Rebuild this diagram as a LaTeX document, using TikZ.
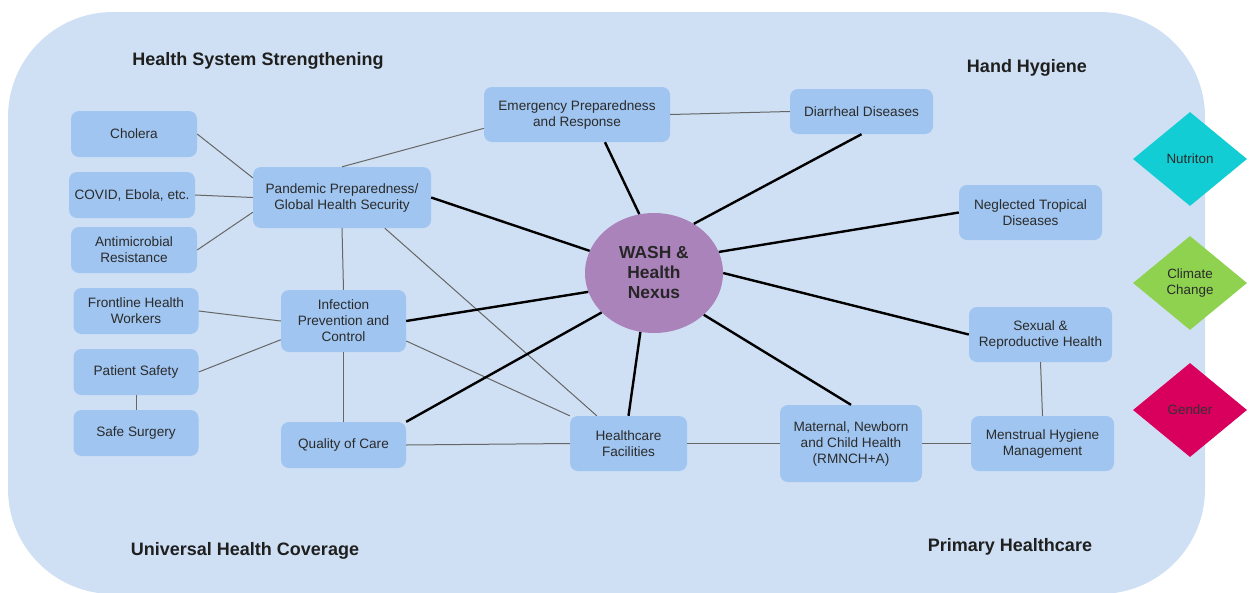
\documentclass[tikz,border=0pt]{standalone}
\usepackage{fontspec}
\setmainfont{Liberation Sans}
\usetikzlibrary{shapes.geometric,calc}
\definecolor{bgblue}{HTML}{CFE0F4}
\definecolor{boxblue}{HTML}{9FC5F0}
\definecolor{nexuscol}{HTML}{AB83BB}
\definecolor{nutricol}{HTML}{12CDD4}
\definecolor{climatecol}{HTML}{8ED24F}
\definecolor{gendercol}{HTML}{D8005C}
\definecolor{txtgray}{HTML}{2B2B2B}
\definecolor{linkgray}{HTML}{666666}
\begin{document}
\begin{tikzpicture}[x=1pt,y=-1pt,
  box/.style={draw=none, fill=boxblue, rounded corners=8pt, align=center,
    font=\fontsize{13.6}{16}\selectfont, text=txtgray, inner sep=2pt},
  title/.style={font=\bfseries\fontsize{18}{21}\selectfont, text=black!88},
  dmd/.style={diamond, draw=none, minimum width=114pt, minimum height=94pt,
    inner sep=0pt, align=center, font=\fontsize{13.4}{16}\selectfont, text=txtgray},
  strong/.style={line width=2.4pt, black},
  weak/.style={line width=1pt, linkgray}]
\useasboundingbox (0,0) rectangle (1253,592);
\fill[bgblue, rounded corners=105pt] (8,12) rectangle (1205,594);

% titles
\node[title] (t1) at (258,61) {Health System Strengthening};
\node[title] (t2) at (1027,68) {Hand Hygiene};
\node[title] (t3) at (245,551) {Universal Health Coverage};
\node[title] (t4) at (1010,547) {Primary Healthcare};

% left column
\node[box, minimum width=126pt, minimum height=46pt] (chol) at (134,134) {Cholera};
\node[box, minimum width=126pt, minimum height=46pt] (covid) at (132,195) {COVID, Ebola, etc.};
\node[box, minimum width=126pt, minimum height=46pt] (amr) at (134,250) {Antimicrobial\\Resistance};
\node[box, minimum width=125pt, minimum height=46pt] (front) at (136,311) {Frontline Health\\Workers};
\node[box, minimum width=125pt, minimum height=46pt] (ps) at (136,372) {Patient Safety};
\node[box, minimum width=125pt, minimum height=46pt] (ss) at (136,433) {Safe Surgery};

% second column
\node[box, minimum width=178pt, minimum height=61pt] (pand) at (342,197.5) {Pandemic Preparedness/\\Global Health Security};
\node[box, minimum width=125pt, minimum height=62pt] (ipc) at (343.5,321) {Infection\\Prevention and\\Control};
\node[box, minimum width=125pt, minimum height=46pt] (qoc) at (343.5,445) {Quality of Care};

% centre
\node[box, minimum width=186pt, minimum height=55pt] (emer) at (577,114.5) {Emergency Preparedness\\and Response};
\node[box, minimum width=143pt, minimum height=45pt] (diar) at (861.5,111.5) {Diarrheal Diseases};
\node[ellipse, fill=nexuscol, minimum width=138pt, minimum height=120pt, inner sep=0pt,
  align=center, font=\bfseries\fontsize{17.4}{20}\selectfont, text=black!85] (wash) at (654,273) {WASH \&\\Health\\Nexus};
\node[box, minimum width=117pt, minimum height=55pt] (hf) at (628.5,443.5) {Healthcare\\Facilities};
\node[box, minimum width=142pt, minimum height=77pt] (mat) at (851,443.5) {Maternal, Newborn\\and Child Health\\(RMNCH+A)};

% right column
\node[box, minimum width=143pt, minimum height=55pt] (ntd) at (1030.5,212.5) {Neglected Tropical\\Diseases};
\node[box, minimum width=143pt, minimum height=55pt] (sex) at (1040.5,334.5) {Sexual \&\\Reproductive Health};
\node[box, minimum width=143pt, minimum height=55pt] (men) at (1042.5,443.5) {Menstrual Hygiene\\Management};

% diamonds
\node[dmd, fill=nutricol] (nut) at (1190,159) {Nutriton};
\node[dmd, fill=climatecol] (clim) at (1190,283) {Climate\\Change};
\node[dmd, fill=gendercol, text=black!80] (gen) at (1190,410) {Gender};

% thin links
\draw[weak] (chol.east) -- ($(pand.north west)!0.18!(pand.south west)$);
\draw[weak] (covid.east) -- (pand.west);
\draw[weak] (amr.east) -- ($(pand.north west)!0.74!(pand.south west)$);
\draw[weak] (pand.north) -- ($(emer.north west)!0.75!(emer.south west)$);
\draw[weak] (pand.south) -- (ipc.north);
\draw[weak] ($(pand.south west)!0.74!(pand.south east)$) -- ($(hf.north west)!0.23!(hf.north east)$);
\draw[weak] ($(ipc.north east)!0.82!(ipc.south east)$) -- (hf.north west);
\draw[weak] (front.east) -- (ipc.west);
\draw[weak] (ps.east) -- ($(ipc.north west)!0.8!(ipc.south west)$);
\draw[weak] (ps.south) -- (ss.north);
\draw[weak] (ipc.south) -- (qoc.north);
\draw[weak] (qoc.east) -- (hf.west);
\draw[weak] (hf.east) -- (mat.west);
\draw[weak] (mat.east) -- (men.west);
\draw[weak] (sex.south) -- (men.north);
\draw[weak] (emer.east) -- (diar.west);

% thick links
\draw[strong] (wash.104) -- ($(emer.south west)!0.65!(emer.south east)$);
\draw[strong] (wash.51) -- (diar.south);
\draw[strong] (wash.161) -- (pand.east);
\draw[strong] (wash.18) -- (ntd.west);
\draw[strong] (wash.0) -- (sex.west);
\draw[strong] (wash.196) -- (ipc.east);
\draw[strong] (wash.217) -- (qoc.north east);
\draw[strong] (wash.257) -- (hf.north);
\draw[strong] (wash.320) -- (mat.north);
\end{tikzpicture}
\end{document}
